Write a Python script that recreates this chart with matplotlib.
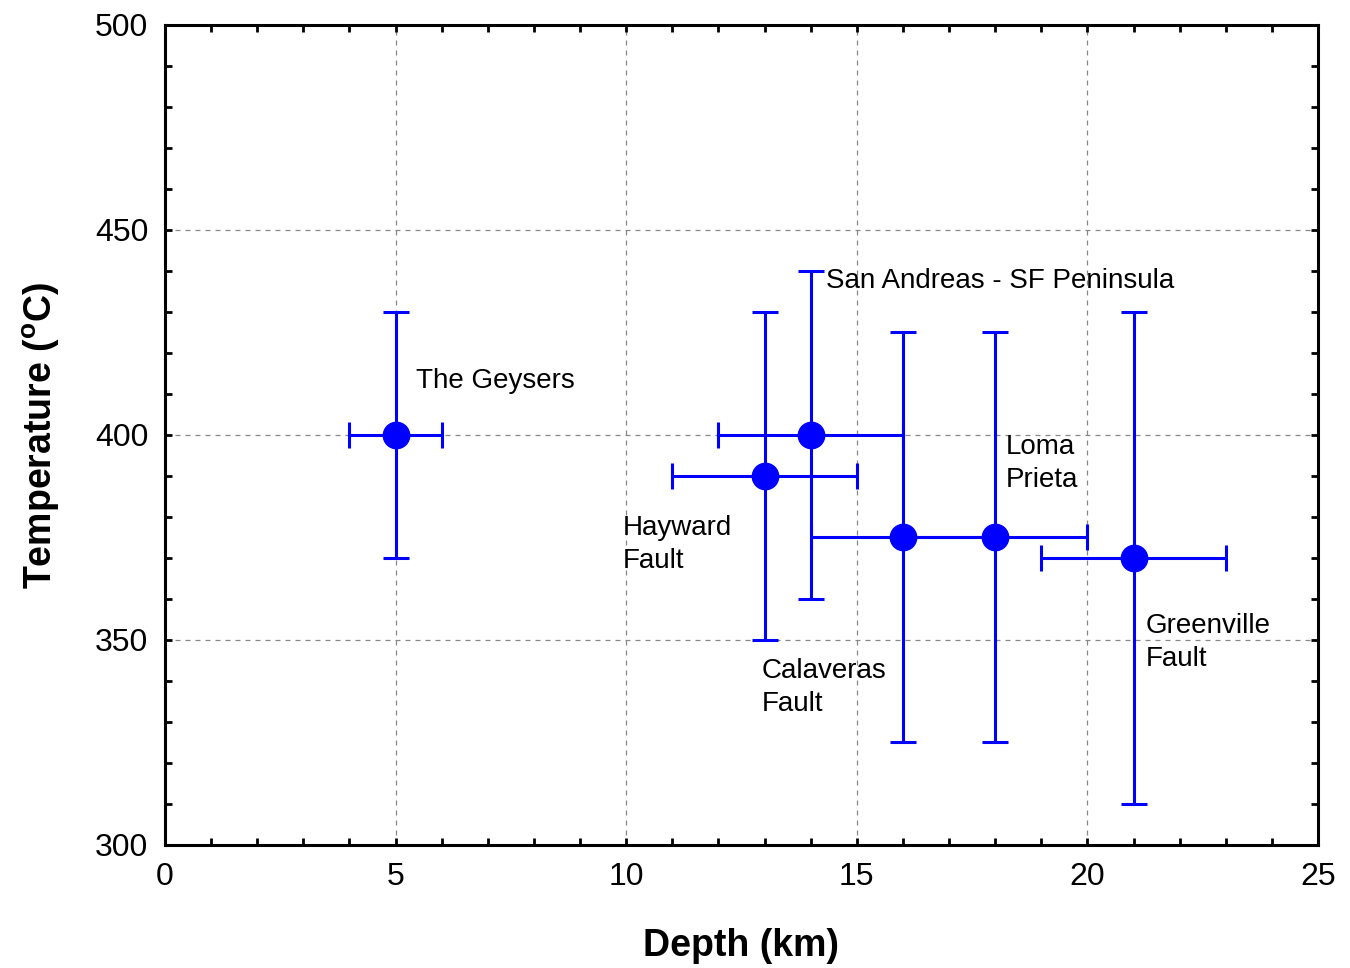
import matplotlib
matplotlib.use("Agg")
import matplotlib.pyplot as plt
from matplotlib.ticker import MultipleLocator

plt.rcParams['font.family'] = ['Liberation Sans', 'DejaVu Sans']

names = ["The Geysers", "Hayward Fault", "San Andreas - SF Peninsula",
         "Calaveras Fault", "Loma Prieta", "Greenville Fault"]
depth = [5, 13, 14, 16, 18, 21]
temp = [400, 390, 400, 375, 375, 370]
depth_err = [1, 2, 2, 2, 2, 2]
temp_lo = [370, 350, 360, 325, 325, 310]
temp_hi = [430, 430, 440, 425, 425, 430]

label_text = ["The Geysers", "Hayward\nFault", "San Andreas - SF Peninsula",
              "Calaveras\nFault", "Loma\nPrieta", "Greenville\nFault"]
label_x = [5.44, 9.93, 14.33, 12.94, 18.24, 21.27]
label_y = [413.2, 373.2, 437.6, 338.3, 393.0, 349.5]

fig = plt.figure(figsize=(13.5, 9.68), dpi=100)
ax = fig.add_axes([0.1222, 0.1271, 0.8541, 0.8471])

yerr = [[t - lo for t, lo in zip(temp, temp_lo)],
        [hi - t for t, hi in zip(temp, temp_hi)]]
ax.errorbar(depth, temp, xerr=depth_err, yerr=yerr, fmt='o', color='#0000ff',
            ecolor='#0000ff', markersize=19, elinewidth=2.2, capsize=9.5,
            capthick=2.2, zorder=3)

for t, x, y in zip(label_text, label_x, label_y):
    ax.text(x, y, t, fontsize=20, ha='left', va='center', linespacing=1.35,
            color='black', zorder=4)

ax.set_xlim(0, 25)
ax.set_ylim(300, 500)
ax.xaxis.set_major_locator(MultipleLocator(5))
ax.xaxis.set_minor_locator(MultipleLocator(1))
ax.yaxis.set_major_locator(MultipleLocator(50))
ax.yaxis.set_minor_locator(MultipleLocator(10))
ax.tick_params(which='both', direction='in', top=True, right=True,
               length=5, width=2, labelsize=23, pad=12)
ax.grid(True, which='major', linestyle=(0, (4, 4)), color='#888888', linewidth=0.9)
ax.set_axisbelow(True)
for s in ax.spines.values():
    s.set_linewidth(2.2)

ax.set_xlabel("Depth (km)", fontsize=27, fontweight='bold', labelpad=26)
ax.set_ylabel("Temperature ($\\mathregular{^{o}}$C)", fontsize=27,
              fontweight='bold', labelpad=24)

fig.savefig("out.png", dpi=100)
